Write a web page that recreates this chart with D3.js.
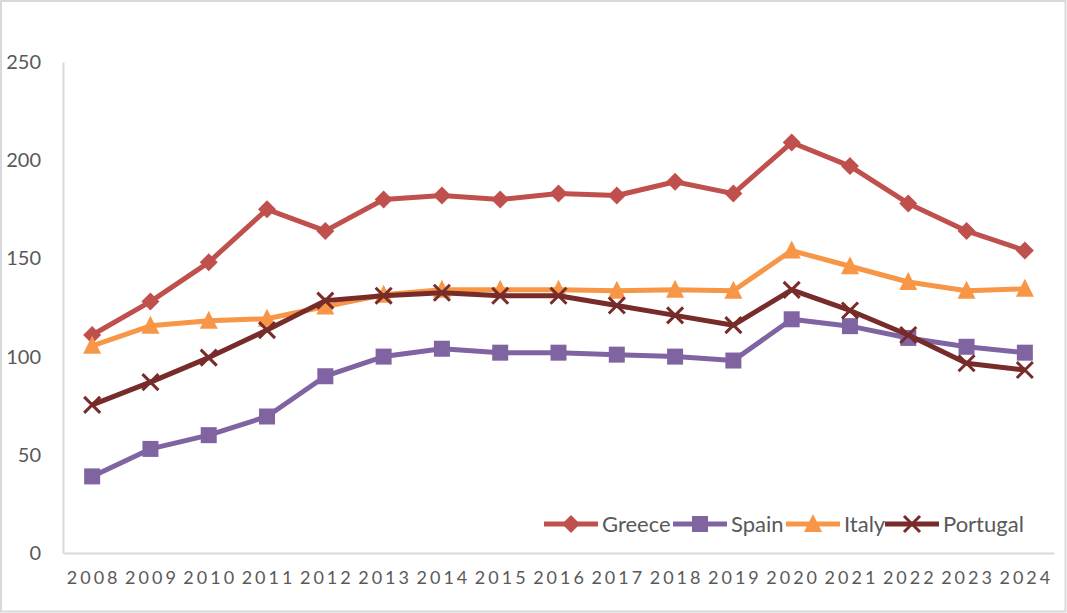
<!DOCTYPE html>
<html><head><meta charset="utf-8">
<script src="https://cdn.jsdelivr.net/npm/d3@7"></script>
<style>
html,body{margin:0;padding:0;background:#fff;}
svg{display:block;}
text{font-family:Lato,"Open Sans",sans-serif;fill:#595959;}
</style></head>
<body>
<svg id="chart" width="1067" height="613"></svg>
<script>
const years = ["2008","2009","2010","2011","2012","2013","2014","2015","2016","2017","2018","2019","2020","2021","2022","2023","2024"];
const greece   = [111,128,148,175,164,180,182,180,183,182,189,183,209,197,178,164,154];
const spain    = [39,53,60,69.5,90,100,104,102,102,101,100,98,119,115.5,109.5,105,102];
const italy    = [105.5,115.7,118.3,119.3,125.5,131.5,134,134,134,133.5,134,133.5,154,146,138,133.5,134.5];
const portugal = [75.4,87,99.5,113.5,128.5,131,132.5,131,131,126,121,116,134,123.5,111,96.6,93.2];
const yTicks = [0,50,100,150,200,250];
const seriesNames = ["Greece","Spain","Italy","Portugal"];

const series = [
  {name:seriesNames[0], values:greece,   color:"#C0504D", marker:"diamond"},
  {name:seriesNames[1], values:spain,    color:"#8064A2", marker:"square"},
  {name:seriesNames[2], values:italy,    color:"#F79646", marker:"triangle"},
  {name:seriesNames[3], values:portugal, color:"#772C2A", marker:"x"}
];

const svg = d3.select("#chart");
const W = 1067, H = 613;
const plot = {left:63, right:1054, top:62, bottom:553};

// outer border
svg.append("rect").attr("x",1).attr("y",1).attr("width",W-2.5).attr("height",H-2.5)
  .attr("fill","#fff").attr("stroke","#D9D9D9").attr("stroke-width",2);

const x = d3.scaleBand().domain(years).range([plot.left, plot.right]);
const y = d3.scaleLinear().domain([0,250]).range([plot.bottom, plot.top]);

// axes
const yAxis = d3.axisLeft(y).tickValues(yTicks).tickSize(0).tickPadding(22);
const gy = svg.append("g").attr("transform",`translate(${plot.left},0)`).call(yAxis);
gy.select(".domain").attr("stroke","#D9D9D9").attr("stroke-width",2);
gy.selectAll("text").attr("font-size",20).style("fill","#595959").attr("font-family","Lato");

const xAxis = d3.axisBottom(x).tickSize(0).tickPadding(18);
const gx = svg.append("g").attr("transform",`translate(0,${plot.bottom})`).call(xAxis);
gx.select(".domain").attr("stroke","#D9D9D9").attr("stroke-width",2);
gx.selectAll("text").attr("font-size",18).style("fill","#595959").attr("font-family","Lato")
  .style("letter-spacing","3px").attr("dx","1.5px");

const cx = (i) => x(years[i]) + x.bandwidth()/2;

function drawMarker(g, type, color, px, py){
  if(type==="diamond"){
    const s=9;
    g.append("path").attr("d",`M${px},${py-s}L${px+s},${py}L${px},${py+s}L${px-s},${py}Z`).attr("fill",color);
  } else if(type==="square"){
    const s=8;
    g.append("rect").attr("x",px-s).attr("y",py-s).attr("width",2*s).attr("height",2*s).attr("fill",color);
  } else if(type==="triangle"){
    const s=9;
    g.append("path").attr("d",`M${px},${py-s-1}L${px+s},${py+s-1}L${px-s},${py+s-1}Z`).attr("fill",color);
  } else {
    const s=8;
    g.append("path").attr("d",`M${px-s},${py-s}L${px+s},${py+s}M${px-s},${py+s}L${px+s},${py-s}`)
      .attr("stroke",color).attr("stroke-width",3).attr("fill","none");
  }
}

const line = d3.line().x((d,i)=>cx(i)).y(d=>y(d));
series.forEach(s=>{
  const g = svg.append("g");
  g.append("path").datum(s.values).attr("d",line).attr("fill","none")
    .attr("stroke",s.color).attr("stroke-width",5).attr("stroke-linejoin","round");
  s.values.forEach((v,i)=>drawMarker(g,s.marker,s.color,cx(i),y(v)));
});

// legend
const legendX = [544, 673, 786, 885];
const legendY = 524;
series.forEach((s,i)=>{
  const g = svg.append("g");
  const x0 = legendX[i];
  g.append("line").attr("x1",x0).attr("x2",x0+54).attr("y1",legendY).attr("y2",legendY)
    .attr("stroke",s.color).attr("stroke-width",5);
  drawMarker(g,s.marker,s.color,x0+27,legendY);
  g.append("text").attr("x",x0+58).attr("y",legendY).attr("dy","0.36em")
    .attr("font-size",22).text(s.name);
});
</script>
</body></html>
